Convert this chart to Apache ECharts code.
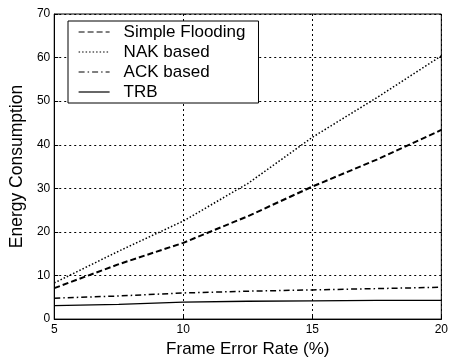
<!DOCTYPE html>
<html>
<head>
<meta charset="utf-8">
<script src="https://cdn.jsdelivr.net/npm/echarts@6/dist/echarts.min.js"></script>
<style>
  html, body { margin: 0; padding: 0; background: #fff; }
  #chart { width: 451px; height: 363px; }
</style>
</head>
<body>
<div id="chart"></div>
<script>
// Frame error rate (%) sample points
const frameErrorRate = [5, 7.5, 10, 12.5, 15, 17.5, 20];

// Energy consumption per scheme
const simpleFlooding = [7.1, 12.6, 17.5, 23.6, 30.4, 36.6, 43.4];
const nakBased       = [8.3, 15.6, 22.5, 31.1, 41.7, 50.8, 60.4];
const ackBased       = [4.8, 5.3, 6.0, 6.4, 6.7, 7.0, 7.3];
const trb            = [3.1, 3.4, 3.9, 4.1, 4.2, 4.3, 4.3];

const xTicks = [5, 10, 15, 20];
const yTicks = [0, 10, 20, 30, 40, 50, 60, 70];

const FONT = '"Liberation Sans", Arial, sans-serif';

function pairs(ys) {
  return frameErrorRate.map((x, i) => [x, ys[i]]);
}

function lineSeries(name, ys, dash, width) {
  return {
    name: name,
    type: 'line',
    data: pairs(ys),
    symbol: 'none',
    smooth: false,
    animation: false,
    lineStyle: { color: '#000', width: width, type: dash },
    itemStyle: { color: '#000' }
  };
}

const chart = echarts.init(document.getElementById('chart'), null, { renderer: 'canvas' });

chart.setOption({
  backgroundColor: '#fff',
  animation: false,
  textStyle: { fontFamily: FONT, color: '#000' },
  grid: {
    left: 46, right: 8, top: 14, bottom: 37,
    show: true, borderColor: '#000', borderWidth: 1, backgroundColor: 'transparent'
  },
  legend: {
    orient: 'vertical',
    left: 68,
    top: 21,
    itemWidth: 31,
    itemHeight: 14,
    itemGap: 2,
    padding: [2, 13, 2, 10],
    backgroundColor: '#fff',
    borderColor: '#000',
    borderWidth: 1,
    borderRadius: 0,
    selectedMode: false,
    // line samples only, no point marker
    itemStyle: { opacity: 0 },
    lineStyle: { width: 1.2, color: '#000', opacity: 1 },
    textStyle: { fontFamily: FONT, fontSize: 17, color: '#000', lineHeight: 18,
      padding: [0, 0, 0, 9] },
    data: ['Simple Flooding', 'NAK based', 'ACK based', 'TRB']
  },
  xAxis: {
    type: 'value',
    min: xTicks[0],
    max: xTicks[xTicks.length - 1],
    interval: 5,
    name: 'Frame Error Rate (%)',
    nameLocation: 'middle',
    nameGap: 19,
    nameTextStyle: { fontFamily: FONT, fontSize: 17, color: '#000' },
    axisLine: { show: true, lineStyle: { color: '#000', width: 1 } },
    axisTick: { show: true, inside: true, length: 4, lineStyle: { color: '#000' } },
    axisLabel: { fontFamily: FONT, fontSize: 12, color: '#000', margin: 5,
      formatter: v => xTicks.includes(v) ? String(v) : '' },
    splitLine: { show: true, lineStyle: { color: '#000', width: 1, type: [2, 3] } }
  },
  yAxis: {
    type: 'value',
    min: yTicks[0],
    max: yTicks[yTicks.length - 1],
    interval: 10,
    name: 'Energy Consumption',
    nameLocation: 'middle',
    nameGap: 26,
    nameTextStyle: { fontFamily: FONT, fontSize: 17.5, color: '#000' },
    axisLine: { show: true, lineStyle: { color: '#000', width: 1 } },
    axisTick: { show: true, inside: true, length: 4, lineStyle: { color: '#000' } },
    axisLabel: { fontFamily: FONT, fontSize: 12, color: '#000', margin: 4,
      formatter: v => yTicks.includes(v) ? String(v) : '' },
    splitLine: { show: true, lineStyle: { color: '#000', width: 1, type: [2, 3] } }
  },
  series: [
    lineSeries('Simple Flooding', simpleFlooding, [6, 3], 2),
    lineSeries('NAK based', nakBased, [1.5, 2], 1.5),
    lineSeries('ACK based', ackBased, [6, 3, 1.5, 3], 1.5),
    lineSeries('TRB', trb, 'solid', 1.3)
  ]
});
</script>
</body>
</html>
